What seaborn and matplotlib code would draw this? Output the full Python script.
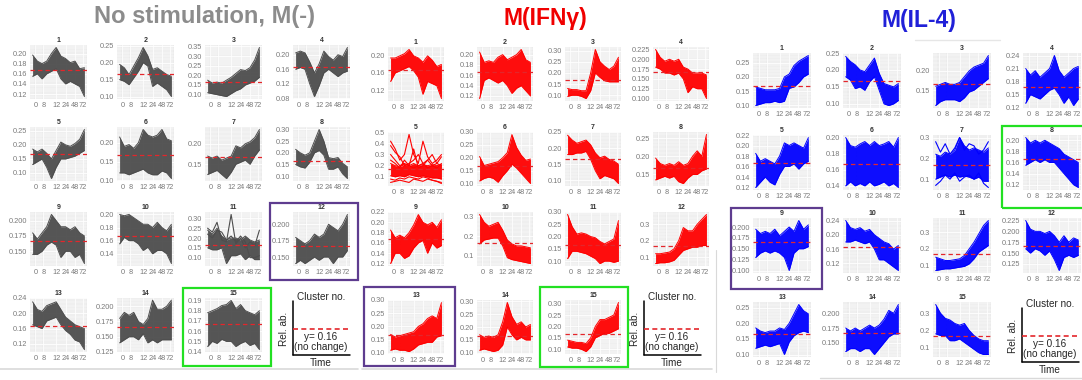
import numpy as np
import pandas as pd
import matplotlib
matplotlib.use("Agg")
import matplotlib.pyplot as plt
import seaborn as sns
from matplotlib.patches import Rectangle
from matplotlib.lines import Line2D

# ── style ─────────────────────────────────────────────
sns.set_theme(style="darkgrid", rc={
    "axes.facecolor": "#EBEBEB",
    "grid.color": "white",
    "figure.facecolor": "white",
})
plt.rcParams["font.family"] = ["Liberation Sans", "DejaVu Sans"]

W, H = 1082, 380

# ── data ──────────────────────────────────────────────
TIME_LABELS = ["0", "8", "12", "24", "48", "72"]
NO_CHANGE = 0.1667

# M(-): upper / lower envelope of every cluster (12 samples each)
MNEG_HI = {
    1: [0.197, 0.185, 0.180, 0.185, 0.200, 0.212, 0.195, 0.190, 0.182, 0.185, 0.170, 0.172],
    2: [0.195, 0.185, 0.165, 0.190, 0.215, 0.245, 0.220, 0.180, 0.185, 0.175, 0.165, 0.160],
    3: [0.175, 0.160, 0.165, 0.160, 0.175, 0.190, 0.210, 0.230, 0.225, 0.240, 0.280, 0.345],
    4: [0.205, 0.210, 0.205, 0.180, 0.150, 0.175, 0.210, 0.195, 0.185, 0.200, 0.195, 0.220],
    5: [0.185, 0.175, 0.185, 0.170, 0.150, 0.180, 0.210, 0.200, 0.195, 0.205, 0.220, 0.255],
    6: [0.215, 0.190, 0.195, 0.185, 0.200, 0.235, 0.220, 0.215, 0.220, 0.235, 0.210, 0.205],
    7: [0.170, 0.165, 0.170, 0.160, 0.165, 0.170, 0.195, 0.190, 0.200, 0.205, 0.215, 0.235],
    8: [0.215, 0.200, 0.190, 0.200, 0.250, 0.300, 0.250, 0.180, 0.175, 0.180, 0.155, 0.140],
    9: [0.180, 0.170, 0.180, 0.190, 0.210, 0.200, 0.190, 0.190, 0.185, 0.190, 0.180, 0.175],
    10: [0.200, 0.198, 0.200, 0.195, 0.190, 0.185, 0.185, 0.180, 0.188, 0.180, 0.175, 0.185],
    11: [0.240, 0.220, 0.250, 0.210, 0.190, 0.200, 0.200, 0.190, 0.210, 0.190, 0.180, 0.190],
    12: [0.180, 0.175, 0.170, 0.175, 0.185, 0.180, 0.185, 0.200, 0.195, 0.190, 0.200, 0.215],
    13: [0.230, 0.210, 0.205, 0.220, 0.225, 0.230, 0.210, 0.190, 0.180, 0.170, 0.165, 0.160],
    14: [0.180, 0.190, 0.185, 0.190, 0.175, 0.170, 0.180, 0.210, 0.195, 0.195, 0.200, 0.210],
    15: [0.178, 0.180, 0.182, 0.185, 0.186, 0.190, 0.182, 0.186, 0.180, 0.178, 0.176, 0.180],
}
MNEG_LO = {
    1: [0.155, 0.160, 0.150, 0.160, 0.165, 0.170, 0.150, 0.140, 0.145, 0.140, 0.135, 0.115],
    2: [0.150, 0.145, 0.135, 0.155, 0.175, 0.200, 0.190, 0.130, 0.140, 0.130, 0.120, 0.100],
    3: [0.110, 0.105, 0.100, 0.095, 0.090, 0.105, 0.120, 0.130, 0.150, 0.160, 0.170, 0.190],
    4: [0.160, 0.165, 0.160, 0.120, 0.085, 0.115, 0.150, 0.160, 0.150, 0.140, 0.150, 0.155],
    5: [0.130, 0.140, 0.150, 0.120, 0.080, 0.120, 0.150, 0.150, 0.155, 0.160, 0.170, 0.180],
    6: [0.120, 0.120, 0.115, 0.120, 0.125, 0.130, 0.120, 0.115, 0.115, 0.125, 0.120, 0.105],
    7: [0.125, 0.130, 0.135, 0.125, 0.115, 0.130, 0.150, 0.155, 0.160, 0.150, 0.170, 0.185],
    8: [0.150, 0.140, 0.135, 0.160, 0.200, 0.210, 0.190, 0.130, 0.130, 0.140, 0.110, 0.090],
    9: [0.145, 0.145, 0.150, 0.160, 0.165, 0.160, 0.140, 0.150, 0.150, 0.140, 0.145, 0.130],
    10: [0.155, 0.165, 0.160, 0.160, 0.155, 0.145, 0.150, 0.140, 0.145, 0.145, 0.140, 0.125],
    11: [0.150, 0.140, 0.140, 0.150, 0.070, 0.110, 0.110, 0.120, 0.090, 0.110, 0.090, 0.090],
    12: [0.140, 0.145, 0.140, 0.145, 0.150, 0.145, 0.150, 0.150, 0.140, 0.150, 0.150, 0.160],
    13: [0.170, 0.165, 0.160, 0.180, 0.185, 0.190, 0.170, 0.155, 0.145, 0.130, 0.125, 0.105],
    14: [0.140, 0.145, 0.150, 0.150, 0.145, 0.155, 0.140, 0.145, 0.140, 0.145, 0.145, 0.145],
    15: [0.145, 0.150, 0.148, 0.152, 0.150, 0.150, 0.145, 0.148, 0.150, 0.146, 0.148, 0.142],
}
MNEG_EXTRA = {
    11: [[0.250, 0.230, 0.280, 0.190, 0.180, 0.320, 0.170, 0.200, 0.150, 0.180, 0.160, 0.240],
         [0.220, 0.200, 0.240, 0.230, 0.190, 0.210, 0.180, 0.210, 0.180, 0.100, 0.100, 0.110]],
}
MNEG_YTICKS = {
    1: [0.12, 0.14, 0.16, 0.18, 0.20], 2: [0.10, 0.15, 0.20, 0.25],
    3: [0.10, 0.15, 0.20, 0.25, 0.30, 0.35], 4: [0.08, 0.12, 0.16, 0.20],
    5: [0.10, 0.15, 0.20, 0.25], 6: [0.10, 0.15, 0.20], 7: [0.15, 0.20],
    8: [0.10, 0.15, 0.20, 0.25, 0.30], 9: [0.150, 0.175, 0.200],
    10: [0.14, 0.16, 0.18, 0.20], 11: [0.10, 0.15, 0.20, 0.25, 0.30],
    12: [0.150, 0.175, 0.200], 13: [0.12, 0.16, 0.20, 0.24],
    14: [0.125, 0.150, 0.175, 0.200], 15: [0.14, 0.15, 0.16, 0.17, 0.18, 0.19],
}

# M(IFNγ)
IFNG_HI = {
    1: [0.195, 0.195, 0.200, 0.205, 0.215, 0.200, 0.195, 0.185, 0.200, 0.190, 0.175, 0.180],
    2: [0.205, 0.185, 0.188, 0.185, 0.195, 0.200, 0.190, 0.195, 0.200, 0.210, 0.190, 0.185],
    3: [0.130, 0.125, 0.125, 0.120, 0.120, 0.200, 0.305, 0.250, 0.230, 0.215, 0.230, 0.270],
    4: [0.225, 0.205, 0.195, 0.200, 0.195, 0.200, 0.180, 0.175, 0.165, 0.165, 0.165, 0.160],
    5: [0.220, 0.200, 0.190, 0.210, 0.200, 0.220, 0.200, 0.210, 0.200, 0.210, 0.200, 0.210],
    6: [0.205, 0.170, 0.175, 0.180, 0.185, 0.200, 0.220, 0.290, 0.240, 0.210, 0.190, 0.195],
    7: [0.240, 0.225, 0.215, 0.220, 0.225, 0.210, 0.185, 0.170, 0.175, 0.165, 0.160, 0.150],
    8: [0.195, 0.180, 0.175, 0.180, 0.175, 0.185, 0.175, 0.180, 0.200, 0.215, 0.200, 0.260],
    9: [0.185, 0.170, 0.175, 0.170, 0.180, 0.195, 0.215, 0.200, 0.195, 0.200, 0.190, 0.205],
    10: [0.310, 0.270, 0.250, 0.260, 0.270, 0.230, 0.180, 0.160, 0.150, 0.150, 0.145, 0.140],
    11: [0.290, 0.240, 0.210, 0.215, 0.210, 0.200, 0.195, 0.180, 0.170, 0.180, 0.190, 0.265],
    12: [0.120, 0.120, 0.125, 0.130, 0.150, 0.200, 0.280, 0.260, 0.260, 0.300, 0.330, 0.360],
    13: [0.170, 0.160, 0.165, 0.170, 0.175, 0.180, 0.200, 0.210, 0.230, 0.240, 0.230, 0.290],
    14: [0.170, 0.160, 0.165, 0.160, 0.170, 0.220, 0.295, 0.240, 0.210, 0.220, 0.200, 0.210],
    15: [0.140, 0.135, 0.130, 0.130, 0.125, 0.150, 0.200, 0.230, 0.230, 0.240, 0.250, 0.305],
}
IFNG_LO = {
    1: [0.140, 0.160, 0.165, 0.170, 0.175, 0.165, 0.150, 0.110, 0.140, 0.135, 0.130, 0.100],
    2: [0.115, 0.150, 0.155, 0.150, 0.145, 0.150, 0.140, 0.125, 0.135, 0.140, 0.130, 0.120],
    3: [0.095, 0.100, 0.100, 0.095, 0.085, 0.120, 0.200, 0.180, 0.165, 0.160, 0.160, 0.160],
    4: [0.180, 0.175, 0.165, 0.165, 0.160, 0.165, 0.150, 0.115, 0.130, 0.125, 0.125, 0.100],
    5: [0.110, 0.100, 0.110, 0.100, 0.120, 0.110, 0.100, 0.110, 0.100, 0.090, 0.090, 0.080],
    6: [0.110, 0.120, 0.125, 0.120, 0.105, 0.130, 0.150, 0.175, 0.160, 0.140, 0.120, 0.100],
    7: [0.180, 0.180, 0.185, 0.185, 0.190, 0.165, 0.130, 0.105, 0.115, 0.110, 0.105, 0.090],
    8: [0.135, 0.140, 0.145, 0.140, 0.145, 0.130, 0.125, 0.140, 0.150, 0.150, 0.160, 0.165],
    9: [0.120, 0.140, 0.140, 0.130, 0.135, 0.150, 0.160, 0.165, 0.140, 0.160, 0.150, 0.155],
    10: [0.160, 0.180, 0.185, 0.190, 0.190, 0.150, 0.090, 0.080, 0.075, 0.070, 0.065, 0.060],
    11: [0.110, 0.140, 0.140, 0.135, 0.130, 0.120, 0.110, 0.090, 0.100, 0.100, 0.095, 0.100],
    12: [0.060, 0.065, 0.065, 0.070, 0.080, 0.110, 0.140, 0.150, 0.160, 0.160, 0.170, 0.170],
    13: [0.110, 0.115, 0.110, 0.110, 0.105, 0.115, 0.130, 0.135, 0.140, 0.140, 0.160, 0.165],
    14: [0.110, 0.115, 0.110, 0.105, 0.110, 0.130, 0.200, 0.170, 0.150, 0.160, 0.150, 0.150],
    15: [0.110, 0.105, 0.105, 0.100, 0.090, 0.110, 0.150, 0.160, 0.170, 0.170, 0.180, 0.190],
}
IFNG_EXTRA = {
    5: [[0.42, 0.35, 0.25, 0.30, 0.48, 0.30, 0.22, 0.42, 0.28, 0.22, 0.25, 0.30],
        [0.38, 0.32, 0.28, 0.20, 0.22, 0.25, 0.30, 0.22, 0.25, 0.20, 0.22, 0.28],
        [0.30, 0.25, 0.20, 0.22, 0.20, 0.18, 0.20, 0.22, 0.18, 0.20, 0.18, 0.22],
        [0.25, 0.22, 0.18, 0.25, 0.20, 0.35, 0.18, 0.20, 0.25, 0.30, 0.22, 0.20],
        [0.08, 0.07, 0.09, 0.08, 0.10, 0.09, 0.08, 0.10, 0.09, 0.07, 0.06, 0.05],
        [0.05, 0.06, 0.07, 0.06, 0.05, 0.08, 0.07, 0.06, 0.08, 0.07, 0.06, 0.04]],
}
IFNG_YTICKS = {
    1: [0.12, 0.16, 0.20], 2: [0.12, 0.14, 0.16, 0.18, 0.20],
    3: [0.10, 0.15, 0.20, 0.25, 0.30], 4: [0.100, 0.125, 0.150, 0.175, 0.200, 0.225],
    5: [0.1, 0.2, 0.3, 0.4, 0.5], 6: [0.10, 0.15, 0.20, 0.25, 0.30],
    7: [0.10, 0.15, 0.20, 0.25], 8: [0.15, 0.20, 0.25],
    9: [0.12, 0.14, 0.16, 0.18, 0.20, 0.22], 10: [0.1, 0.2, 0.3],
    11: [0.10, 0.15, 0.20, 0.25, 0.30], 12: [0.1, 0.2, 0.3],
    13: [0.10, 0.15, 0.20, 0.25, 0.30], 14: [0.10, 0.15, 0.20, 0.25, 0.30],
    15: [0.10, 0.15, 0.20, 0.25, 0.30],
}

# M(IL-4)
IL4_HI = {
    1: [0.165, 0.160, 0.155, 0.155, 0.155, 0.160, 0.200, 0.210, 0.240, 0.255, 0.265, 0.275],
    2: [0.240, 0.225, 0.215, 0.200, 0.195, 0.215, 0.235, 0.190, 0.160, 0.155, 0.150, 0.160],
    3: [0.160, 0.165, 0.170, 0.165, 0.165, 0.170, 0.185, 0.200, 0.210, 0.215, 0.220, 0.240],
    4: [0.210, 0.195, 0.205, 0.190, 0.200, 0.210, 0.240, 0.205, 0.190, 0.200, 0.210, 0.215],
    5: [0.185, 0.170, 0.175, 0.170, 0.165, 0.180, 0.205, 0.200, 0.205, 0.200, 0.195, 0.215],
    6: [0.200, 0.190, 0.188, 0.192, 0.195, 0.190, 0.195, 0.190, 0.192, 0.195, 0.188, 0.200],
    7: [0.220, 0.210, 0.230, 0.220, 0.240, 0.300, 0.260, 0.240, 0.250, 0.240, 0.230, 0.250],
    8: [0.205, 0.195, 0.200, 0.195, 0.200, 0.195, 0.190, 0.185, 0.175, 0.170, 0.165, 0.160],
    9: [0.195, 0.185, 0.190, 0.185, 0.195, 0.180, 0.190, 0.200, 0.190, 0.215, 0.195, 0.205],
    10: [0.240, 0.220, 0.215, 0.220, 0.210, 0.215, 0.200, 0.190, 0.180, 0.175, 0.160, 0.170],
    11: [0.150, 0.140, 0.130, 0.130, 0.135, 0.140, 0.160, 0.200, 0.240, 0.290, 0.340, 0.370],
    12: [0.225, 0.205, 0.200, 0.200, 0.195, 0.200, 0.190, 0.175, 0.190, 0.175, 0.185, 0.180],
    13: [0.185, 0.175, 0.170, 0.175, 0.175, 0.185, 0.180, 0.200, 0.230, 0.260, 0.240, 0.230],
    14: [0.175, 0.170, 0.175, 0.170, 0.175, 0.180, 0.175, 0.180, 0.190, 0.205, 0.200, 0.215],
    15: [0.350, 0.300, 0.270, 0.260, 0.240, 0.230, 0.240, 0.200, 0.170, 0.150, 0.140, 0.140],
}
IL4_LO = {
    1: [0.100, 0.105, 0.110, 0.110, 0.115, 0.110, 0.115, 0.160, 0.165, 0.180, 0.200, 0.210],
    2: [0.180, 0.170, 0.145, 0.150, 0.140, 0.165, 0.180, 0.140, 0.100, 0.095, 0.100, 0.110],
    3: [0.110, 0.120, 0.125, 0.125, 0.125, 0.120, 0.130, 0.145, 0.150, 0.160, 0.170, 0.180],
    4: [0.130, 0.150, 0.145, 0.140, 0.150, 0.160, 0.165, 0.150, 0.130, 0.145, 0.125, 0.140],
    5: [0.120, 0.130, 0.140, 0.130, 0.125, 0.145, 0.160, 0.160, 0.165, 0.155, 0.165, 0.170],
    6: [0.140, 0.145, 0.140, 0.143, 0.140, 0.145, 0.140, 0.142, 0.145, 0.140, 0.143, 0.138],
    7: [0.100, 0.110, 0.120, 0.110, 0.120, 0.110, 0.115, 0.110, 0.100, 0.110, 0.090, 0.090],
    8: [0.155, 0.160, 0.165, 0.160, 0.165, 0.160, 0.160, 0.150, 0.140, 0.130, 0.120, 0.115],
    9: [0.130, 0.140, 0.145, 0.140, 0.145, 0.140, 0.130, 0.100, 0.140, 0.150, 0.150, 0.155],
    10: [0.180, 0.180, 0.185, 0.180, 0.175, 0.180, 0.160, 0.130, 0.130, 0.120, 0.110, 0.100],
    11: [0.070, 0.075, 0.080, 0.080, 0.085, 0.090, 0.095, 0.110, 0.140, 0.180, 0.200, 0.220],
    12: [0.160, 0.150, 0.160, 0.155, 0.145, 0.155, 0.135, 0.110, 0.140, 0.145, 0.140, 0.145],
    13: [0.120, 0.125, 0.130, 0.125, 0.130, 0.135, 0.100, 0.140, 0.160, 0.170, 0.175, 0.170],
    14: [0.135, 0.140, 0.140, 0.135, 0.140, 0.140, 0.130, 0.140, 0.150, 0.160, 0.165, 0.165],
    15: [0.180, 0.170, 0.170, 0.140, 0.140, 0.150, 0.130, 0.110, 0.090, 0.070, 0.060, 0.060],
}
IL4_EXTRA = {
    7: [[0.28, 0.23, 0.27, 0.22, 0.25, 0.30, 0.24, 0.27, 0.26, 0.22, 0.24, 0.28],
        [0.07, 0.09, 0.12, 0.10, 0.13, 0.09, 0.11, 0.12, 0.10, 0.13, 0.08, 0.06]],
}
IL4_YTICKS = {
    1: [0.10, 0.15, 0.20, 0.25], 2: [0.10, 0.15, 0.20, 0.25], 3: [0.15, 0.20],
    4: [0.12, 0.15, 0.18, 0.21, 0.24], 5: [0.12, 0.14, 0.16, 0.18, 0.20, 0.22],
    6: [0.14, 0.16, 0.18, 0.20], 7: [0.1, 0.2, 0.3],
    8: [0.12, 0.14, 0.16, 0.18, 0.20], 9: [0.100, 0.125, 0.150, 0.175, 0.200],
    10: [0.12, 0.16, 0.20, 0.24], 11: [0.1, 0.2, 0.3],
    12: [0.125, 0.150, 0.175, 0.200, 0.225], 13: [0.10, 0.15, 0.20, 0.25],
    14: [0.150, 0.175, 0.200], 15: [0.1, 0.2, 0.3],
}

# ── helpers ───────────────────────────────────────────
def fig_box(x, y, w, h):
    return [x / W, 1 - (y + h) / H, w / W, h / H]


def tick_fmt(ticks):
    # ggplot style: same number of decimals on every label of one axis
    for d in (1, 2, 3):
        if all(abs(round(v, d) - v) < 1e-9 for v in ticks):
            break
    return [f"{v:.{d}f}" for v in ticks]


def draw_cluster(ax, num, hi, lo, extra, yticks, color):
    x = np.arange(len(hi))
    df = pd.DataFrame({"t": x, "hi": hi, "lo": lo})
    ax.fill_between(df["t"], df["lo"], df["hi"], color=color, lw=0, alpha=0.95)
    sns.lineplot(data=df, x="t", y="hi", ax=ax, color=color, lw=0.7)
    sns.lineplot(data=df, x="t", y="lo", ax=ax, color=color, lw=0.7)
    for line in extra:
        sns.lineplot(x=x, y=line, ax=ax, color=color, lw=0.8)
    ax.axhline(NO_CHANGE, color="#e4262b", lw=0.9, ls=(0, (3.5, 2.5)), zorder=5)

    allv = np.concatenate([np.asarray(hi), np.asarray(lo)] + [np.asarray(e) for e in extra])
    rng = allv.max() - allv.min()
    ax.set_ylim(allv.min() - 0.05 * rng, allv.max() + 0.05 * rng)
    ax.set_xlim(-0.55, len(hi) - 0.45)
    ax.set_xticks([0.6, 2.3, 5.0, 7.0, 8.9, 10.7])
    ax.set_xticklabels(TIME_LABELS)
    ax.set_yticks(yticks)
    ax.set_yticklabels(tick_fmt(yticks))
    ax.minorticks_on()
    ax.grid(which="major", color="white", lw=0.6)
    ax.grid(which="minor", color="white", lw=0.3)
    ax.tick_params(which="both", length=0, labelsize=5.3, colors="#7a7a7a", pad=2)
    ax.set_xlabel("")
    ax.set_ylabel("")
    ax.set_title(str(num), fontsize=5, pad=2, color="#333333", fontweight="bold")
    for s in ax.spines.values():
        s.set_visible(False)


def draw_group(cols, rows, w, h, his, los, extras, yticks, color):
    for k in range(1, 16):
        r, c = (k - 1) // 4, (k - 1) % 4
        ax = fig.add_axes(fig_box(cols[c], rows[r], w, h))
        draw_cluster(ax, k, his[k], los[k], extras.get(k, []), yticks[k], color)


def frame(x, y, w, h, color):
    fig.add_artist(Rectangle((x / W, 1 - (y + h) / H), w / W, h / H,
                             transform=fig.transFigure, fill=False,
                             ec=color, lw=1.6, zorder=20))


def fline(x0, y0, x1, y1, **kw):
    fig.add_artist(Line2D([x0 / W, x1 / W], [1 - y0 / H, 1 - y1 / H],
                          transform=fig.transFigure, **kw))


def key_cell(x0, y0):
    # small explanatory key: axis, dashed baseline, labels
    fline(x0, y0 + 8, x0, y0 + 62, color="black", lw=1.1)
    fline(x0, y0 + 62, x0 + 57, y0 + 62, color="black", lw=1.1)
    fline(x0, y0 + 36, x0 + 57, y0 + 36, color="#e4262b", lw=1.2, ls=(0, (3, 2)))
    fig.text((x0 + 28) / W, 1 - (y0 + 4) / H, "Cluster no.", fontsize=7.2,
             ha="center", va="center")
    fig.text((x0 - 9) / W, 1 - (y0 + 36) / H, "Rel. ab.", fontsize=7.2,
             rotation=90, ha="center", va="center")
    fig.text((x0 + 28) / W, 1 - (y0 + 44) / H, "y= 0.16", fontsize=7.2,
             ha="center", va="center")
    fig.text((x0 + 28) / W, 1 - (y0 + 54) / H, "(no change)", fontsize=7.2,
             ha="center", va="center")
    fig.text((x0 + 28) / W, 1 - (y0 + 70) / H, "Time", fontsize=7.2,
             ha="center", va="center")


# ── figure ────────────────────────────────────────────
fig = plt.figure(figsize=(W / 100, H / 100), dpi=100)

GREY, RED, BLUE = "#4d4d4d", "#ff0000", "#0000ff"

draw_group([30, 117, 205, 293], [45, 127, 212, 298], 57, 54,
           MNEG_HI, MNEG_LO, MNEG_EXTRA, MNEG_YTICKS, GREY)
draw_group([388, 477, 565, 653], [47, 132, 212, 300], 56, 54,
           IFNG_HI, IFNG_LO, IFNG_EXTRA, IFNG_YTICKS, RED)
draw_group([753, 843, 933, 1023], [53, 135, 218, 302], 58, 55,
           IL4_HI, IL4_LO, IL4_EXTRA, IL4_YTICKS, BLUE)

fig.text(204 / W, 1 - 17 / H, "No stimulation, M(-)", color="#8c8c8c",
         fontsize=17, fontweight="bold", ha="center", va="center")
fig.text(545 / W, 1 - 18 / H, "M(IFNγ)", color="#f00000",
         fontsize=16.5, fontweight="bold", ha="center", va="center")
fig.text(919 / W, 1 - 20 / H, "M(IL-4)", color="#2020d8",
         fontsize=16.5, fontweight="bold", ha="center", va="center")

PURPLE, GREEN = "#5e3c8f", "#22e022"
frame(270, 203, 88, 77, PURPLE)
frame(183, 288, 88, 78, GREEN)
frame(364, 287, 91, 79, PURPLE)
frame(540, 287, 88, 80, GREEN)
frame(1002, 126, 90, 82, GREEN)
frame(731, 208, 91, 81, PURPLE)

key_cell(293, 293)
key_cell(644, 293)
key_cell(1022, 300)

# thin separators
fline(0, 369, 358, 369, color="#d9d9d9", lw=1.2)
fline(362, 369, 712, 369, color="#d9d9d9", lw=1.2)
fline(716, 250, 716, 372, color="#d9d9d9", lw=0.8)
fline(820, 378, 1082, 378, color="#d9d9d9", lw=1.0)
fline(915, 40, 1000, 40, color="#e6e6e6", lw=1.0)

fig.savefig("out.png", dpi=100, facecolor="white")
plt.close(fig)
